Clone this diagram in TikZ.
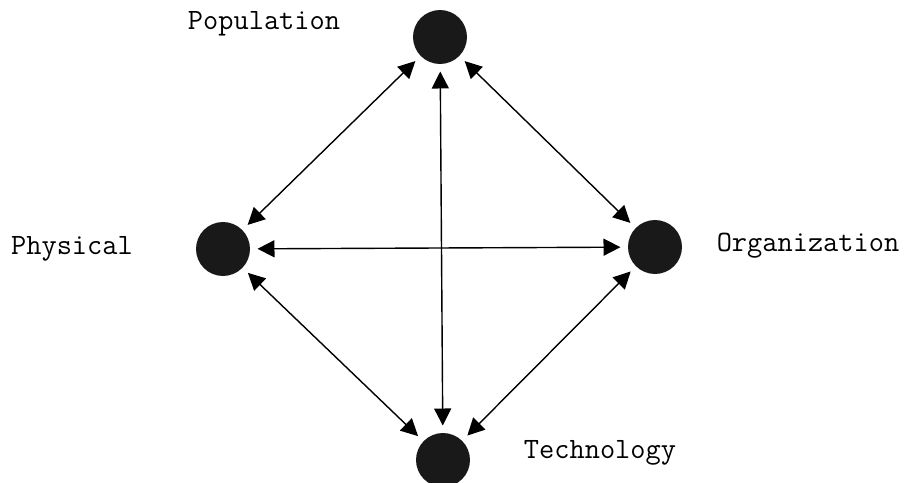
\documentclass[tikz,border=0pt]{standalone}
\usetikzlibrary{arrows.meta}

\begin{document}
\begin{tikzpicture}[x=0.02cm, y=-0.02cm, >={Triangle[length=0.34cm, width=0.34cm]}]
    \useasboundingbox (0,0) rectangle (907,483);
    \tikzset{
      dot/.style={circle, fill=black!90, minimum size=1.08cm, inner sep=0pt, outer sep=0.15cm},
      tag/.style={font=\ttfamily\fontsize{16.8}{18}\selectfont, inner sep=0pt},
      link/.style={<->, line width=0.8pt}
    }
    \node[dot] (pop) at (440,37) {};
    \node[dot] (phys) at (223,249) {};
    \node[dot] (org) at (655,247) {};
    \node[dot] (tech) at (443,460) {};

    \node[tag] (poplabel) at (264,24) {Population};
    \node[tag] (physlabel) at (72,249) {Physical};
    \node[tag] (orglabel) at (808,246) {Organization};
    \node[tag] (techlabel) at (600,453) {Technology};

    \draw[link] (pop) -- (phys);
    \draw[link] (pop) -- (org);
    \draw[link] (pop) -- (tech);
    \draw[link] (phys) -- (org);
    \draw[link] (phys) -- (tech);
    \draw[link] (org) -- (tech);
  \end{tikzpicture}
\end{document}
